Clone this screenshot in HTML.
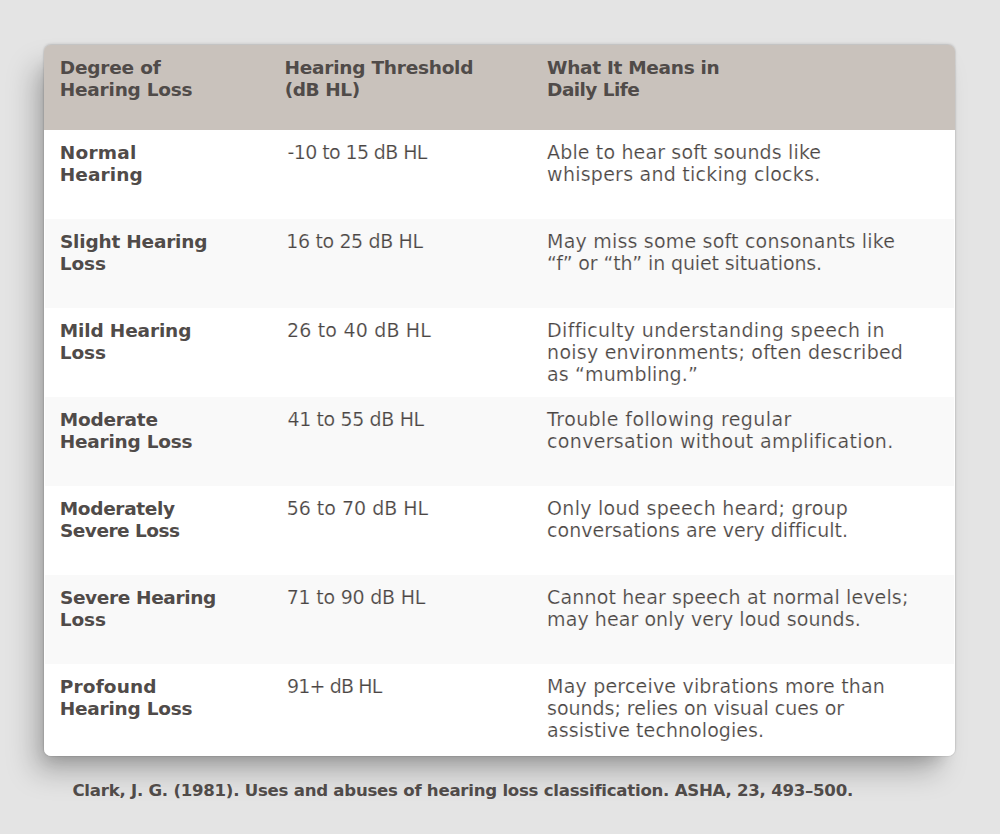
<!DOCTYPE html><html><head><meta charset="utf-8"><title>Hearing Loss Classification</title><style>
html,body{margin:0;padding:0}
body{width:1000px;height:834px;background:#e4e4e4;position:relative;overflow:hidden;font-family:"DejaVu Sans", "Liberation Sans", sans-serif;color:#4b4644}
.card{position:absolute;left:44px;top:44.6px;width:911px;height:711.4px;border-radius:7px;overflow:hidden;background:linear-gradient(#c9c2bc 0 85.4px,#fff 85.4px);box-shadow:0 0 0 1px rgba(0,0,0,.04), 0 -1px 3px rgba(0,0,0,.14), -4.5px 10.8px 14px -7.9px rgba(0,0,0,.15), -13px 19px 29px -4px rgba(0,0,0,.26)}
.hdr{position:absolute;left:0;top:0;width:100%;height:85.4px;background:#c9c2bc}
.row{position:absolute;left:1px;right:1px}
.alt{background:#f9f9f9}
.l{position:absolute;white-space:pre;font-size:19px;line-height:22px}
.sw{-webkit-text-stroke:0.2px #fff}
.sa{-webkit-text-stroke:0.2px #f9f9f9}
.b{font-weight:bold;font-size:18.5px;color:#504b49}
.cite{position:absolute;white-space:pre;font-weight:bold;color:#504b49;font-size:16.6px;line-height:20px}

</style></head><body>
<div class="card"><div class="hdr"></div>
<div class="row" style="top:85.4px;height:89.0px"></div>
<div class="row alt" style="top:174.4px;height:89.0px"></div>
<div class="row" style="top:263.4px;height:89.0px"></div>
<div class="row alt" style="top:352.4px;height:89.0px"></div>
<div class="row" style="top:441.4px;height:89.0px"></div>
<div class="row alt" style="top:530.4px;height:89.0px"></div>
<div class="row" style="top:619.4px;height:92.0px"></div>
</div>
<div class="l b" id="h00" style="left:59.80px;top:57.10px;letter-spacing:-0.205px">Degree of</div>
<div class="l b" id="h01" style="left:59.80px;top:79.30px;letter-spacing:-0.229px">Hearing Loss</div>
<div class="l b" id="h10" style="left:284.55px;top:57.10px;letter-spacing:-0.242px">Hearing Threshold</div>
<div class="l b" id="h11" style="left:284.73px;top:79.30px;letter-spacing:-0.419px">(dB HL)</div>
<div class="l b" id="h20" style="left:547.10px;top:57.10px;letter-spacing:-0.298px">What It Means in</div>
<div class="l b" id="h21" style="left:547.10px;top:79.30px;letter-spacing:-0.564px">Daily Life</div>
<div class="l b" id="r0c0l0" style="left:59.77px;top:141.71px;letter-spacing:0.213px">Normal</div>
<div class="l b" id="r0c0l1" style="left:59.77px;top:163.90px;letter-spacing:0.092px">Hearing</div>
<div class="l sw" id="r0c1l0" style="left:287.61px;top:140.71px;letter-spacing:-0.615px">-10 to 15 dB HL</div>
<div class="l sw" id="r0c2l0" style="left:547.10px;top:140.71px;letter-spacing:0.143px">Able to hear soft sounds like</div>
<div class="l sw" id="r0c2l1" style="left:547.10px;top:162.90px;letter-spacing:0.248px">whispers and ticking clocks.</div>
<div class="l b" id="r1c0l0" style="left:59.99px;top:230.71px;letter-spacing:-0.202px">Slight Hearing</div>
<div class="l b" id="r1c0l1" style="left:59.75px;top:252.90px;letter-spacing:-0.070px">Loss</div>
<div class="l sa" id="r1c1l0" style="left:286.32px;top:229.71px;letter-spacing:-0.377px">16 to 25 dB HL</div>
<div class="l sa" id="r1c2l0" style="left:547.10px;top:229.71px;letter-spacing:0.198px">May miss some soft consonants like</div>
<div class="l sa" id="r1c2l1" style="left:547.10px;top:251.90px;letter-spacing:-0.127px">“f” or “th” in quiet situations.</div>
<div class="l b" id="r2c0l0" style="left:59.77px;top:319.71px;letter-spacing:-0.141px">Mild Hearing</div>
<div class="l b" id="r2c0l1" style="left:59.77px;top:341.90px;letter-spacing:-0.077px">Loss</div>
<div class="l sw" id="r2c1l0" style="left:286.95px;top:318.71px;letter-spacing:0.187px">26 to 40 dB HL</div>
<div class="l sw" id="r2c2l0" style="left:547.10px;top:318.71px;letter-spacing:0.332px">Difficulty understanding speech in</div>
<div class="l sw" id="r2c2l1" style="left:547.10px;top:340.90px;letter-spacing:0.240px">noisy environments; often described</div>
<div class="l sw" id="r2c2l2" style="left:547.10px;top:363.10px;letter-spacing:0.124px">as “mumbling.”</div>
<div class="l b" id="r3c0l0" style="left:59.75px;top:408.71px;letter-spacing:-0.239px">Moderate</div>
<div class="l b" id="r3c0l1" style="left:59.75px;top:430.90px;letter-spacing:-0.226px">Hearing Loss</div>
<div class="l sa" id="r3c1l0" style="left:287.46px;top:407.71px;letter-spacing:-0.375px">41 to 55 dB HL</div>
<div class="l sa" id="r3c2l0" style="left:547.10px;top:407.71px;letter-spacing:0.413px">Trouble following regular</div>
<div class="l sa" id="r3c2l1" style="left:547.10px;top:429.90px;letter-spacing:0.311px">conversation without amplification.</div>
<div class="l b" id="r4c0l0" style="left:59.77px;top:497.71px;letter-spacing:-0.330px">Moderately</div>
<div class="l b" id="r4c0l1" style="left:60.00px;top:519.90px;letter-spacing:-0.509px">Severe Loss</div>
<div class="l sw" id="r4c1l0" style="left:286.70px;top:496.71px;letter-spacing:-0.011px">56 to 70 dB HL</div>
<div class="l sw" id="r4c2l0" style="left:547.10px;top:496.71px;letter-spacing:0.279px">Only loud speech heard; group</div>
<div class="l sw" id="r4c2l1" style="left:547.10px;top:518.90px;letter-spacing:0.007px">conversations are very difficult.</div>
<div class="l b" id="r5c0l0" style="left:59.99px;top:586.71px;letter-spacing:-0.366px">Severe Hearing</div>
<div class="l b" id="r5c0l1" style="left:59.75px;top:608.90px;letter-spacing:-0.070px">Loss</div>
<div class="l sa" id="r5c1l0" style="left:286.73px;top:585.71px;letter-spacing:-0.227px">71 to 90 dB HL</div>
<div class="l sa" id="r5c2l0" style="left:547.10px;top:585.71px;letter-spacing:0.136px">Cannot hear speech at normal levels;</div>
<div class="l sa" id="r5c2l1" style="left:547.10px;top:607.90px;letter-spacing:0.070px">may hear only very loud sounds.</div>
<div class="l b" id="r6c0l0" style="left:59.77px;top:675.71px;letter-spacing:0.156px">Profound</div>
<div class="l b" id="r6c0l1" style="left:59.77px;top:697.90px;letter-spacing:-0.227px">Hearing Loss</div>
<div class="l sw" id="r6c1l0" style="left:286.97px;top:674.71px;letter-spacing:-0.858px">91+ dB HL</div>
<div class="l sw" id="r6c2l0" style="left:547.10px;top:674.71px;letter-spacing:0.192px">May perceive vibrations more than</div>
<div class="l sw" id="r6c2l1" style="left:547.10px;top:696.90px;letter-spacing:-0.030px">sounds; relies on visual cues or</div>
<div class="l sw" id="r6c2l2" style="left:547.10px;top:719.10px;letter-spacing:0.069px">assistive technologies.</div>
<div class="cite" id="cite" style="left:72.42px;top:781.00px;letter-spacing:-0.257px">Clark, J. G. (1981). Uses and abuses of hearing loss classification. ASHA, 23, 493–500.</div>
</body></html>
